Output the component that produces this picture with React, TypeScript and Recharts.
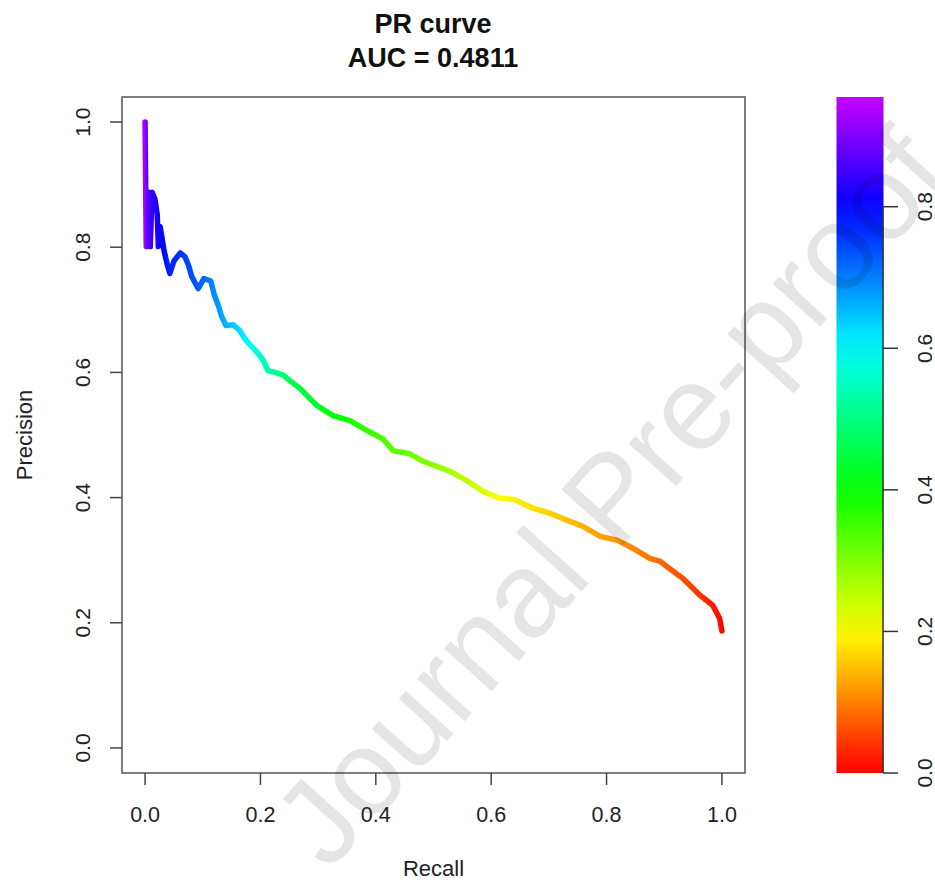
import React from 'react';
import { LineChart, Line, XAxis, YAxis, ReferenceArea, BarChart, Bar, ReferenceLine } from 'recharts';

// PR curve points (recall, precision, score cutoff used for colour)
const recall = [
  0.000, 0.002, 0.007, 0.009, 0.012, 0.017, 0.021, 0.023, 0.026, 0.029,
  0.033, 0.038, 0.043, 0.050, 0.061, 0.069, 0.075, 0.081, 0.092, 0.102,
  0.114, 0.120, 0.127, 0.133, 0.140, 0.153, 0.163, 0.173, 0.185, 0.196,
  0.205, 0.213, 0.225, 0.239, 0.251, 0.269, 0.298, 0.326, 0.355, 0.385,
  0.412, 0.430, 0.459, 0.482, 0.529, 0.558, 0.586, 0.615, 0.640, 0.672,
  0.702, 0.731, 0.759, 0.789, 0.818, 0.846, 0.875, 0.893, 0.932, 0.962,
  0.984, 0.996, 1.000,
];
const precision = [
  1.000, 0.801, 0.888, 0.801, 0.888, 0.877, 0.853, 0.801, 0.833, 0.817,
  0.794, 0.774, 0.758, 0.778, 0.791, 0.785, 0.772, 0.753, 0.734, 0.750,
  0.746, 0.724, 0.707, 0.689, 0.675, 0.676, 0.668, 0.654, 0.641, 0.630,
  0.619, 0.603, 0.600, 0.596, 0.587, 0.574, 0.547, 0.531, 0.523, 0.507,
  0.494, 0.475, 0.470, 0.458, 0.442, 0.427, 0.410, 0.399, 0.397, 0.383,
  0.375, 0.364, 0.354, 0.338, 0.332, 0.319, 0.303, 0.298, 0.271, 0.244,
  0.228, 0.207, 0.187,
];
const cutoff = [
  0.93, 0.88, 0.86, 0.85, 0.84, 0.83, 0.82, 0.815, 0.81, 0.80,
  0.79, 0.78, 0.775, 0.77, 0.76, 0.75, 0.745, 0.74, 0.73, 0.72,
  0.70, 0.69, 0.68, 0.67, 0.66, 0.64, 0.63, 0.61, 0.59, 0.57,
  0.55, 0.53, 0.51, 0.49, 0.47, 0.45, 0.43, 0.40, 0.38, 0.36,
  0.34, 0.33, 0.315, 0.30, 0.27, 0.25, 0.23, 0.20, 0.19, 0.176,
  0.163, 0.15, 0.138, 0.125, 0.115, 0.105, 0.09, 0.08, 0.06, 0.04,
  0.02, 0.01, 0.00,
];

const axisTicks = [0, 0.2, 0.4, 0.6, 0.8, 1];
const scoreTicks = [0, 0.2, 0.4, 0.6, 0.8];
const scoreRange = [0, 0.955];
const aucValue = 0.4811;

const pad = 0.04; // R's default 4% axis expansion
const FONT = '"Liberation Sans", Arial, Helvetica, sans-serif';
const W = 935;
const H = 883;

const scoreColor = (v: number) => `hsl(${(300 * v).toFixed(1)}, 100%, 50%)`;

const prData = recall.map((r, i) => ({ recall: r, precision: precision[i], cutoff: cutoff[i] }));
const barData = [{ x: 0.5, top: scoreRange[1] }];
const barStops = Array.from({ length: 21 }, (_, k) => k / 20);

const RotatedTick = (props: any) => {
  const { x, y, payload } = props;
  return (
    <text
      x={x}
      y={y}
      transform={`rotate(-90 ${x} ${y})`}
      textAnchor="middle"
      fontSize={21}
      fontFamily={FONT}
      fill="#222"
    >
      {Number(payload.value).toFixed(1)}
    </text>
  );
};

const PrecisionTitle = (props: any) => {
  const vb = props.viewBox || { x: 0, y: 97, width: 122, height: 676 };
  const x = vb.x + 32;
  const y = vb.y + vb.height / 2;
  return (
    <text x={x} y={y} transform={`rotate(-90 ${x} ${y})`} textAnchor="middle" fontSize={22} fontFamily={FONT} fill="#222">
      Precision
    </text>
  );
};

const RecallTitle = (props: any) => {
  const vb = props.viewBox || { x: 122, y: 773, width: 623, height: 110 };
  return (
    <text x={vb.x + vb.width / 2} y={vb.y + 103} textAnchor="middle" fontSize={22} fontFamily={FONT} fill="#222">
      Recall
    </text>
  );
};

const App = () => {
  return (
    <div style={{ position: 'absolute', left: 0, top: 0, width: W, height: H, background: '#fff', overflow: 'hidden' }}>
      {/* main PR curve */}
      <div style={{ position: 'absolute', left: 0, top: 0 }}>
        <LineChart width={W} height={H} data={prData} margin={{ top: 97, right: 190, bottom: 0, left: 0 }}>
          <defs>
            <linearGradient id="prCurve" x1="0" y1="0" x2="1" y2="0">
              {prData.map((d, i) => (
                <stop key={i} offset={d.recall} stopColor={scoreColor(d.cutoff)} />
              ))}
            </linearGradient>
          </defs>
          <XAxis
            type="number"
            dataKey="recall"
            domain={[-pad, 1 + pad]}
            ticks={axisTicks}
            tickFormatter={(v: number) => v.toFixed(1)}
            height={110}
            axisLine={false}
            tickSize={12}
            tickMargin={22}
            tickLine={{ stroke: '#444', strokeWidth: 1.5 }}
            tick={{ fontSize: 21.5, fill: '#222', fontFamily: FONT }}
            label={<RecallTitle />}
          />
          <YAxis
            type="number"
            domain={[-pad, 1 + pad]}
            ticks={axisTicks}
            width={122}
            axisLine={false}
            tickSize={12}
            tickMargin={20}
            tickLine={{ stroke: '#444', strokeWidth: 1.5 }}
            tick={<RotatedTick />}
            label={<PrecisionTitle />}
          />
          <ReferenceArea
            x1={-pad}
            x2={1 + pad}
            y1={-pad}
            y2={1 + pad}
            fill="none"
            stroke="#555"
            strokeWidth={1.5}
            ifOverflow="visible"
          />
          <Line
            type="linear"
            dataKey="precision"
            stroke="url(#prCurve)"
            strokeWidth={5.5}
            strokeLinejoin="round"
            strokeLinecap="round"
            dot={false}
            isAnimationActive={false}
          />
        </LineChart>
      </div>

      {/* colour key for the score cutoff */}
      <div style={{ position: 'absolute', left: 0, top: 0 }}>
        <BarChart width={W} height={H} data={barData} margin={{ top: 97, right: 0, bottom: 110, left: 836 }}>
          <defs>
            <linearGradient id="scoreGrad" x1="0" y1="0" x2="0" y2="1">
              {barStops.map((t) => (
                <stop key={t} offset={t} stopColor={scoreColor(scoreRange[1] - t * (scoreRange[1] - scoreRange[0]))} />
              ))}
            </linearGradient>
          </defs>
          <XAxis type="number" dataKey="x" domain={[0, 1]} hide />
          <YAxis
            orientation="right"
            type="number"
            domain={scoreRange}
            allowDataOverflow
            ticks={scoreTicks}
            width={52}
            axisLine={false}
            tickSize={15}
            tickMargin={34}
            tickLine={{ stroke: '#333', strokeWidth: 1.5 }}
            tick={<RotatedTick />}
          />
          <Bar dataKey="top" barSize={47} fill="url(#scoreGrad)" isAnimationActive={false} />
          <ReferenceLine
            segment={[{ x: 1, y: scoreTicks[0] }, { x: 1, y: scoreTicks[scoreTicks.length - 1] }]}
            stroke="#333"
            strokeWidth={1.5}
          />
        </BarChart>
      </div>

      {/* title and watermark */}
      <svg width={W} height={H} style={{ position: 'absolute', left: 0, top: 0, pointerEvents: 'none' }}>
        <text x={433} y={33} textAnchor="middle" fontSize={27} fontWeight="bold" fontFamily={FONT} fill="#111">
          PR curve
        </text>
        <text x={433} y={67} textAnchor="middle" fontSize={27} fontWeight="bold" fontFamily={FONT} fill="#111">
          {`AUC = ${aucValue.toFixed(4)}`}
        </text>
        <text
          x={610}
          y={497}
          transform="rotate(-48 610 497)"
          textAnchor="middle"
          dominantBaseline="central"
          fontSize={121}
          fontFamily={FONT}
          fill="#000"
          fillOpacity={0.1}
        >
          Journal Pre-proof
        </text>
      </svg>
    </div>
  );
};

export default App;
